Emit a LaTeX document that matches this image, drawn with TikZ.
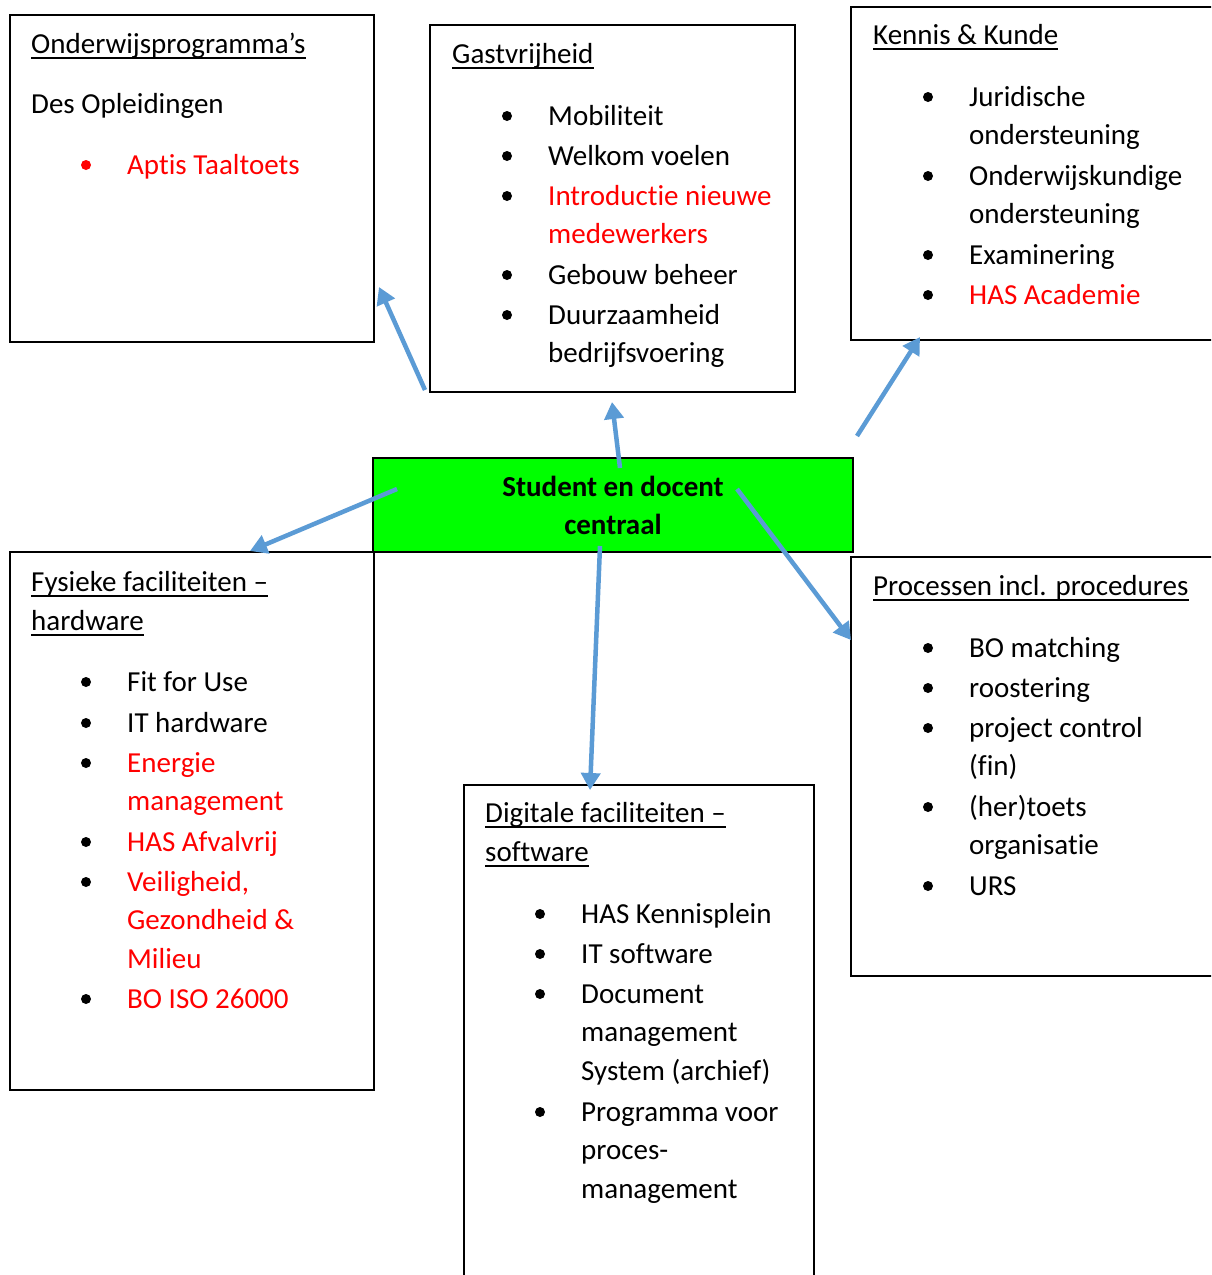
\documentclass[tikz,border=0pt]{standalone}
\usepackage{fontspec}
\setmainfont{Carlito}[Ligatures=NoCommon]
\usetikzlibrary{arrows.meta}
\definecolor{arrowblue}{HTML}{5B9BD5}
\definecolor{txtred}{HTML}{FF0000}
\definecolor{boxgreen}{HTML}{00FF00}
\tikzset{
  box/.style={draw=black, line width=2pt, anchor=north west, inner sep=0pt, outer sep=0pt},
  txt/.style={anchor=base west, inner sep=0pt, yshift=-1pt, font=\fontsize{29}{38.7}\selectfont, align=left},
  hi/.style={text=txtred},
  bul/.style={circle, fill=black, inner sep=0pt, minimum size=10pt},
  hibul/.style={bul, fill=txtred},
  ul/.style={line width=1.4pt},
  conn/.style={draw=arrowblue, line width=4.5pt, -{Triangle[length=17pt,width=19pt]}},
}
\newcommand{\ulnode}[1]{\draw[ul] ([yshift=-5pt]#1.base west) -- ([yshift=-5pt]#1.base east);}
\begin{document}
\begin{tikzpicture}[x=1pt,y=-1pt]
\clip (0,0) rectangle (1211,1275);
\fill[white] (0,0) rectangle (1211,1275);

% boxes
\node[box, minimum width=364pt, minimum height=327pt] (b1) at (10,15) {};
\node[box, minimum width=365pt, minimum height=367pt] (b2) at (430,25) {};
\node[box, minimum width=370pt, minimum height=333pt] (b3) at (851,7) {};
\node[box, fill=boxgreen, minimum width=480pt, minimum height=94pt] (b4) at (373,458) {};
\node[box, minimum width=364pt, minimum height=538pt] (b5) at (10,552) {};
\node[box, minimum width=350pt, minimum height=500pt] (b6) at (464,785) {};
\node[box, minimum width=370pt, minimum height=419pt] (b7) at (851,557) {};

% box 1
\node[txt] (t1) at (31,52) {Onderwijsprogramma’s}; \ulnode{t1}
\node[txt] (t1a) at (31,112) {Des Opleidingen};
\node[hibul] (u1a) at (86,165) {};
\node[txt, hi] (i1a) at (127,173) {Aptis Taaltoets};

% box 2
\node[txt] (t2) at (452,62) {Gastvrijheid}; \ulnode{t2}
\node[bul] (u2a) at (507,116) {}; \node[txt] (i2a) at (548,124) {Mobiliteit};
\node[bul] (u2b) at (507,156) {}; \node[txt] (i2b) at (548,164) {Welkom voelen};
\node[bul] (u2c) at (507,196) {}; \node[txt, hi] (i2c) at (548,242.7) {Introductie nieuwe\\medewerkers};
\node[bul] (u2d) at (507,275) {}; \node[txt] (i2d) at (548,283) {Gebouw beheer};
\node[bul] (u2e) at (507,315) {}; \node[txt] (i2e) at (548,361.7) {Duurzaamheid\\bedrijfsvoering};

% box 3
\node[txt] (t3) at (873,43) {Kennis \& Kunde}; \ulnode{t3}
\node[bul] (u3a) at (928,97) {}; \node[txt] (i3a) at (969,143.7) {Juridische\\ondersteuning};
\node[bul] (u3b) at (928,176) {}; \node[txt] (i3b) at (969,222.7) {Onderwijskundige\\ondersteuning};
\node[bul] (u3c) at (928,255) {}; \node[txt] (i3c) at (969,263) {Examinering};
\node[bul] (u3d) at (928,295) {}; \node[txt, hi] (i3d) at (969,303) {HAS Academie};

% central
\node[txt, anchor=base, align=center, font=\fontsize{29}{38.7}\selectfont\bfseries] (c) at (613,533.7) {Student en docent\\centraal};

% box 5
\node[txt] (t5a) at (31,590) {Fysieke faciliteiten –}; \ulnode{t5a}
\node[txt] (t5b) at (31,629) {hardware}; \ulnode{t5b}
\node[bul] (u5a) at (86,682) {}; \node[txt] (i5a) at (127,690) {Fit for Use};
\node[bul] (u5b) at (86,723) {}; \node[txt] (i5b) at (127,731) {IT hardware};
\node[bul] (u5c) at (86,763) {}; \node[txt, hi] (i5c) at (127,809.7) {Energie\\management};
\node[bul] (u5d) at (86,842) {}; \node[txt, hi] (i5d) at (127,850) {HAS Afvalvrij};
\node[bul] (u5e) at (86,882) {}; \node[txt, hi] (i5e) at (127,967.4) {Veiligheid,\\Gezondheid \&\\Milieu};
\node[bul] (u5f) at (86,999) {}; \node[txt, hi] (i5f) at (127,1007) {BO ISO 26000};

% box 6
\node[txt] (t6a) at (485,821) {Digitale faciliteiten –}; \ulnode{t6a}
\node[txt] (t6b) at (485,860) {software}; \ulnode{t6b}
\node[bul] (u6a) at (540,914) {}; \node[txt] (i6a) at (581,922) {HAS Kennisplein};
\node[bul] (u6b) at (540,954) {}; \node[txt] (i6b) at (581,962) {IT software};
\node[bul] (u6c) at (540,994) {}; \node[txt] (i6c) at (581,1079.4) {Document\\management\\System (archief)};
\node[bul] (u6d) at (540,1112) {}; \node[txt] (i6d) at (581,1197.4) {Programma voor\\proces-\\management};

% box 7
\node[txt] (t7) at (873,594) {Processen incl. procedures}; \ulnode{t7}
\node[bul] (u7a) at (928,648) {}; \node[txt] (i7a) at (969,656) {BO matching};
\node[bul] (u7b) at (928,688) {}; \node[txt] (i7b) at (969,696) {roostering};
\node[bul] (u7c) at (928,728) {}; \node[txt] (i7c) at (969,774.7) {project control\\(fin)};
\node[bul] (u7d) at (928,807) {}; \node[txt] (i7d) at (969,853.7) {(her)toets\\organisatie};
\node[bul] (u7e) at (928,886) {}; \node[txt] (i7e) at (969,894) {URS};

% connectors
\coordinate (s1) at (425,390); \coordinate (e1) at (379,287);
\coordinate (s2) at (620,468); \coordinate (e2) at (612,402);
\coordinate (s3) at (857,436); \coordinate (e3) at (920,337);
\coordinate (s4) at (397,489); \coordinate (e4) at (250,551);
\coordinate (s5) at (737,489); \coordinate (e5) at (851,640);
\coordinate (s6) at (600,546); \coordinate (e6) at (590,790);
\draw[conn] (s1) -- (e1);
\draw[conn] (s2) -- (e2);
\draw[conn] (s3) -- (e3);
\draw[conn] (s4) -- (e4);
\draw[conn] (s5) -- (e5);
\draw[conn] (s6) -- (e6);
\end{tikzpicture}
\end{document}
